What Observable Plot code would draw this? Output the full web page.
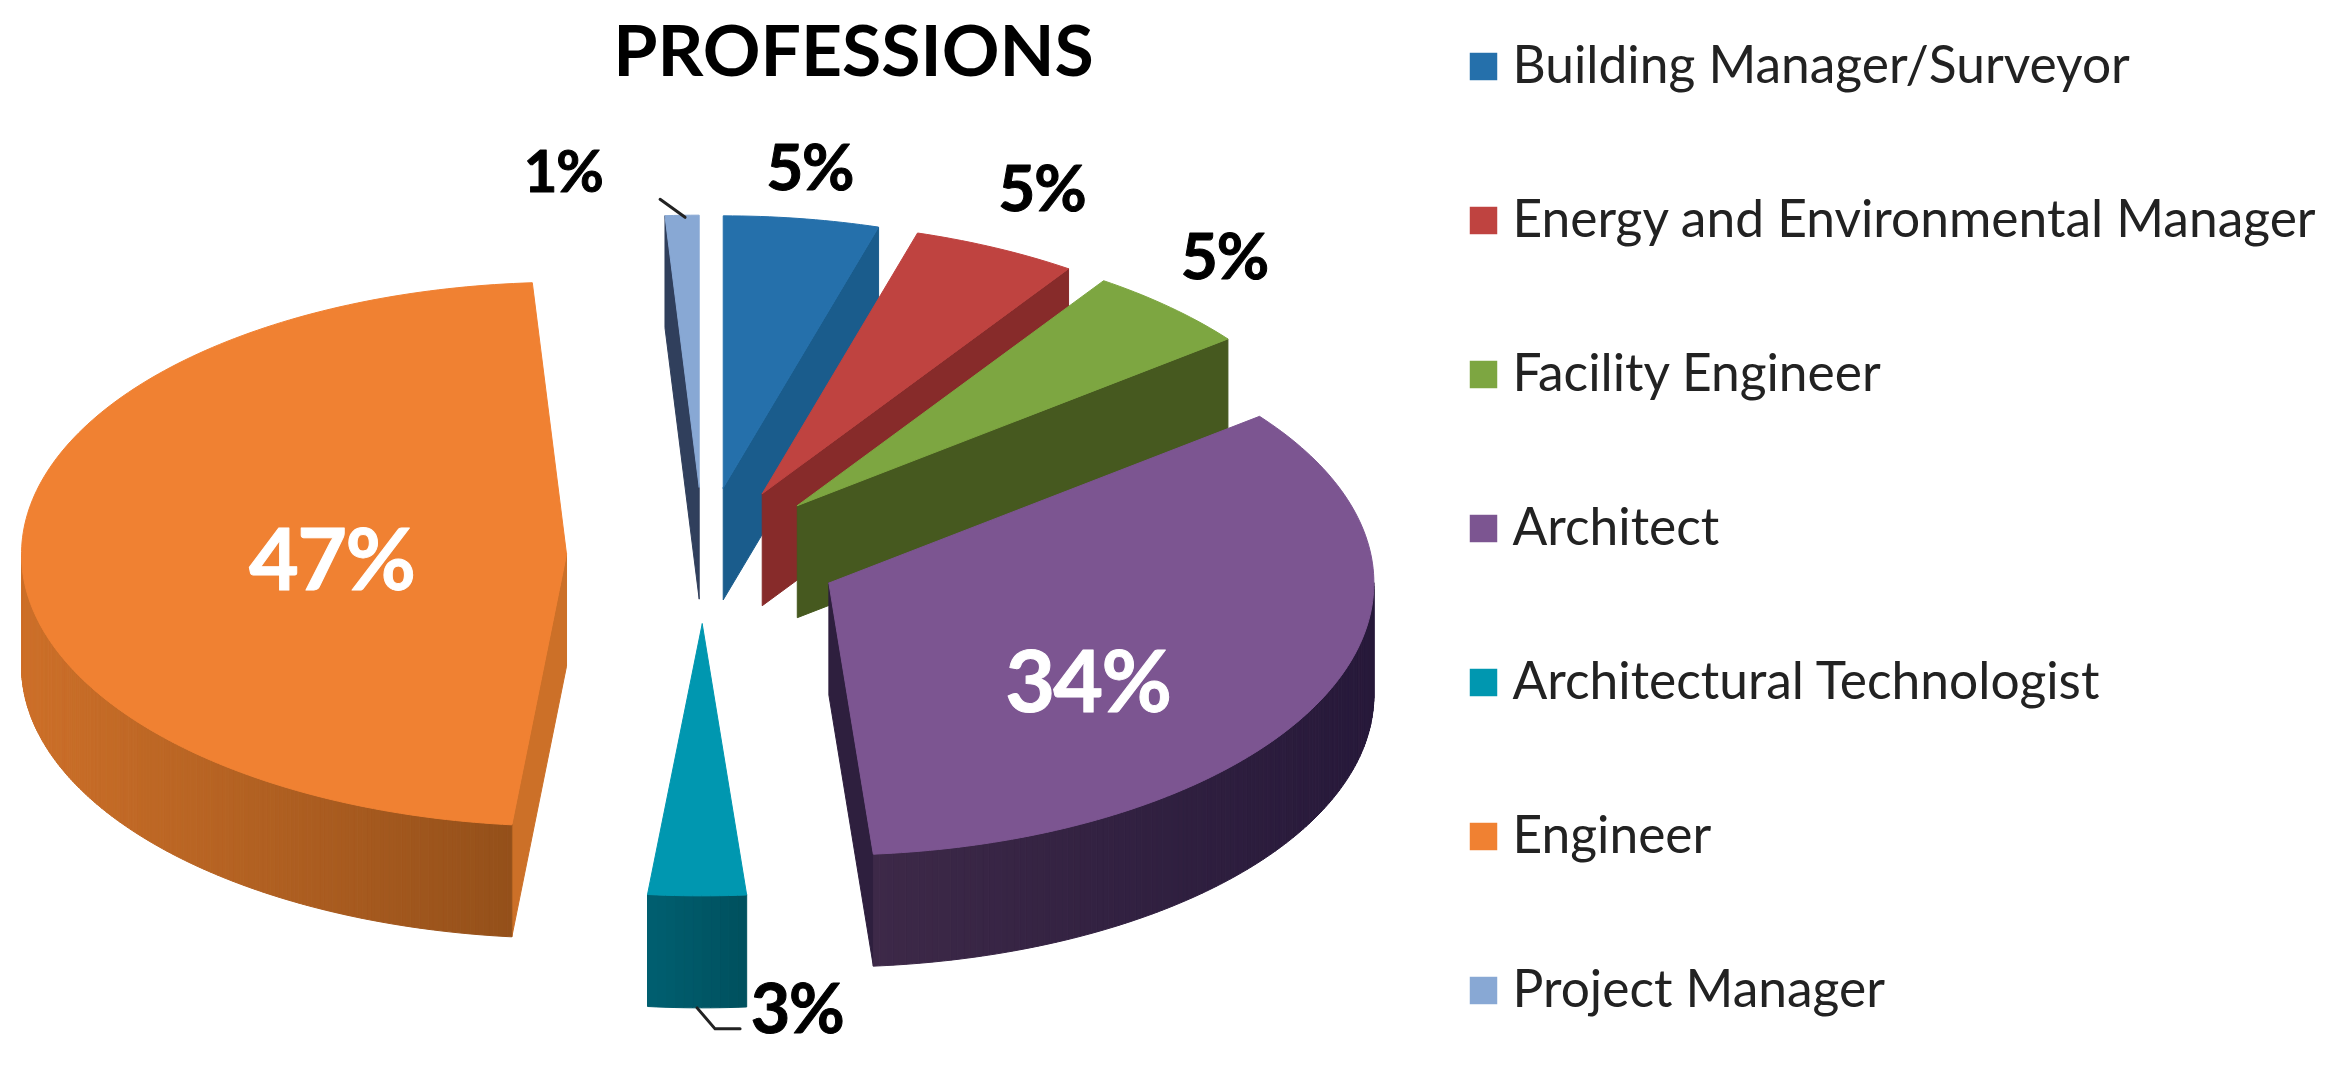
<!DOCTYPE html>
<html><head><meta charset="utf-8">
<script src="https://cdn.jsdelivr.net/npm/d3@7"></script>
<script src="https://cdn.jsdelivr.net/npm/@observablehq/plot@0.6"></script>
<style>html,body{margin:0;padding:0;background:#fff}svg{display:block;filter:blur(.7px)}
.pct text{letter-spacing:-.02em;paint-order:stroke}
</style>
</head><body><div id="chart"></div>
<script>
const title = "PROFESSIONS";
const categories = ["Building Manager/Surveyor","Energy and Environmental Manager","Facility Engineer","Architect","Architectural Technologist","Engineer","Project Manager"];
// slice sizes; the printed labels are rounded
const shares = [4.6,4.9,5.0,34.2,2.9,47.4,1.0];
const labels = ["5%","5%","5%","34%","3%","47%","1%"];

// styles and layout, separate from the data
const topColors  = ["#2570ab","#bf4340","#7da641","#7c5591","#0097b0","#f08132","#88a8d4"];
const wallColors = ["#1a5c8c","#872b2a","#46591f","#2e1f3e","#005a6a","#cc7028","#303f5c"];
const rimFrom    = ["#1a5c8c","#872b2a","#46591f","#3d2948","#005f70","#cd7029","#303f5c"];
const rimTo      = ["#1a5c8c","#872b2a","#46591f","#27193a","#00505e","#94501a","#303f5c"];
const labelFill  = ["#000","#000","#000","#fff","#000","#fff","#000"];
const labelSize  = [64,64,64,86,68,86,58];
const labelDx = [8,46,54,-240,100,310,-119];
const labelDy = [-49,-57,-49,-8,115,13,-42];
const cx=703, cy=555, rx=545, ry=272, depth=112, explode=137, squash=ry/rx;

const font = "Lato, 'Open Sans', sans-serif";
const tau = 2*Math.PI;
const arcs = d3.pie().sort(null).startAngle(0).endAngle(tau)(shares);
const tipOf = a => { const m=(a.startAngle+a.endAngle)/2; return [cx+explode*Math.sin(m), cy-explode*squash*Math.cos(m)]; };
const rimPt = (t,ang,dz=0) => [t[0]+rx*Math.sin(ang), t[1]-ry*Math.cos(ang)+dz];

const polys=[]; let pid=0;
const add=(pts,color)=>{ pid++; [...pts,pts[0]].forEach(p=>polys.push({id:pid,x:p[0],y:p[1],color})); };
arcs.forEach((a,i)=>{
  const t=tipOf(a), a0=a.startAngle, a1=a.endAngle;
  const tb=[t[0],t[1]+depth];
  if (Math.cos(a0-Math.PI/2)<-1e-6) add([t,rimPt(t,a0),rimPt(t,a0,depth),tb],wallColors[i]);
  if (Math.cos(a1+Math.PI/2)<-1e-6) add([t,rimPt(t,a1),rimPt(t,a1,depth),tb],wallColors[i]);
  const n=Math.max(2,Math.ceil((a1-a0)/(tau/360)));
  const vis0=Math.max(a0,Math.PI/2), vis1=Math.min(a1,1.5*Math.PI);
  if (vis1>vis0) {
    const span=d3.range(n+1).map(k=>rimPt(t,vis0+(vis1-vis0)*k/n)[0]);
    const lo=Math.min(...span), hi=Math.max(...span);
    const f=d3.interpolateRgb(rimFrom[i],rimTo[i]);
    for(let k=0;k<n;k++){
      const u0=vis0+(vis1-vis0)*k/n, u1=vis0+(vis1-vis0)*(k+1)/n;
      const xm=(rimPt(t,u0)[0]+rimPt(t,u1)[0])/2;
      add([rimPt(t,u0),rimPt(t,u1),rimPt(t,u1,depth),rimPt(t,u0,depth)],f((xm-lo)/(hi-lo||1)));
    }
  }
  const top=[t]; for(let k=0;k<=n;k++) top.push(rimPt(t,a0+(a1-a0)*k/n));
  add(top,topColors[i]);
});

const labelRows = arcs.map((a,i)=>{ const m=(a.startAngle+a.endAngle)/2, r=rimPt(tipOf(a),m);
  return {text:labels[i],x:r[0]+labelDx[i],y:r[1]+labelDy[i],fill:labelFill[i],size:labelSize[i]}; });

const lead=[];
{ const r=rimPt(tipOf(arcs[6]),(arcs[6].startAngle+arcs[6].endAngle)/2);
  [[r[0]-22,r[1]-16],[r[0]+3,r[1]+2]].forEach(p=>lead.push({id:"pm",x:p[0],y:p[1]}));
  const q=rimPt(tipOf(arcs[4]),(arcs[4].startAngle+arcs[4].endAngle)/2,depth);
  [[q[0],q[1]],[q[0]+18,q[1]+21],[q[0]+43,q[1]+21]].forEach(p=>lead.push({id:"tech",x:p[0],y:p[1]}));
}

const legend = categories.map((c,i)=>({c,i,color:topColors[i]}));
const legendY = i => 66+154*i;

const plot = Plot.plot({
  width:2335,height:1069,margin:0,
  style:{background:"#fff",fontFamily:font},
  x:{domain:[0,2335],range:[0,2335],axis:null},
  y:{domain:[0,1069],range:[0,1069],axis:null},
  color:{type:"identity"},
  marks:[
    Plot.line(polys,{x:"x",y:"y",z:"id",fill:"color",stroke:"color",strokeWidth:1,curve:"linear"}),
    Plot.line(lead,{x:"x",y:"y",z:"id",stroke:"#222",strokeWidth:3,curve:"linear"}),
    Plot.text(labelRows,{x:"x",y:"y",text:"text",fill:"fill",stroke:"fill",strokeWidth:1,fontSize:"size",fontWeight:"bold",className:"pct"}),
    Plot.text([title],{x:()=>853,y:()=>53,text:d=>d,fontSize:71.5,fontWeight:"bold",fill:"#000"}),
    Plot.dot(legend,{x:()=>1483,y:d=>legendY(d.i),symbol:"square",r:15.5,fill:"color",stroke:"none"}),
    Plot.text(legend,{x:()=>1512,y:d=>legendY(d.i),text:"c",textAnchor:"start",fontSize:51.5,fill:"#222"})
  ]
});
document.getElementById("chart").appendChild(plot);
</script></body></html>
